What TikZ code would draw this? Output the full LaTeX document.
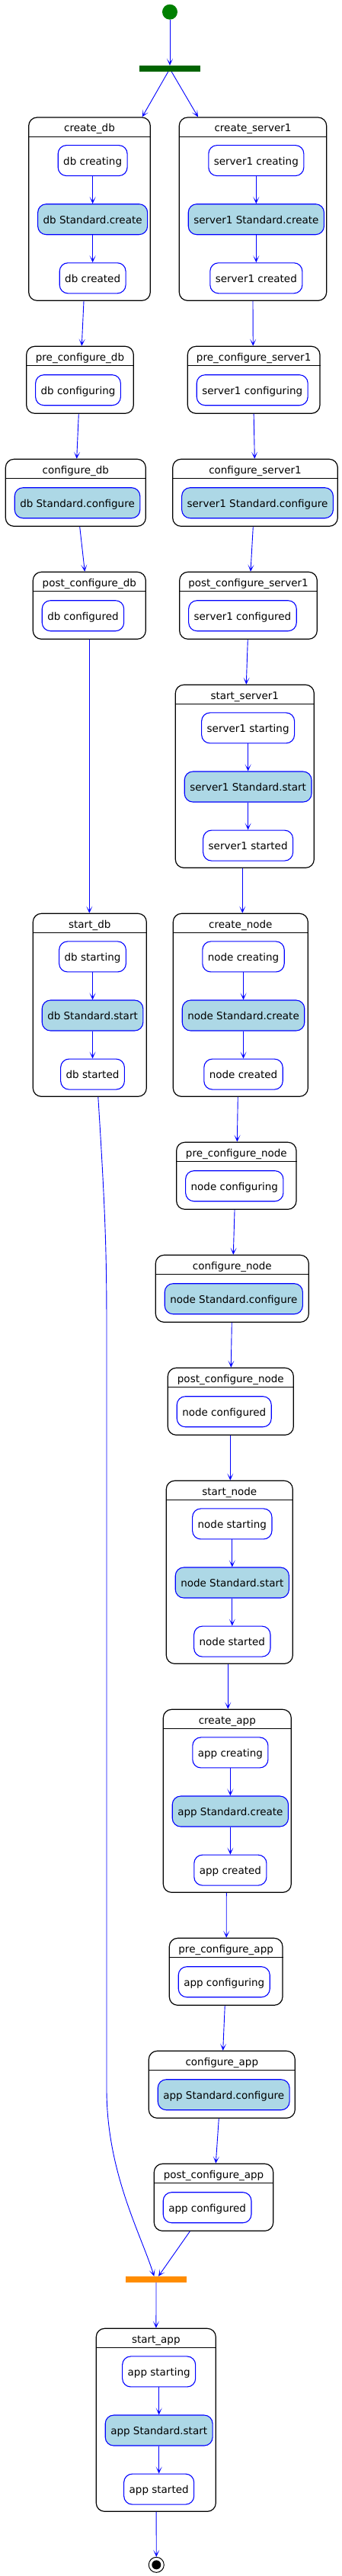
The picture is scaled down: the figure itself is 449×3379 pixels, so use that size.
\documentclass[tikz,border=0pt]{standalone}
\usepackage{fontspec}
\setmainfont{DejaVu Sans}
\usepackage{tikz}
\usetikzlibrary{positioning,arrows.meta}
\definecolor{lightblue}{HTML}{ADD8E6}
\definecolor{startgreen}{HTML}{008000}
\definecolor{forkgreen}{HTML}{006400}
\definecolor{joinorange}{HTML}{FF8C00}

\tikzset{
 superbox/.style={draw=black, line width=1.2pt, rounded corners=11pt, fill=white, inner sep=0pt},
 suptitle/.style={inner sep=0pt, text height=11pt, text depth=0pt},
 actbox/.style={draw=blue, line width=1.1pt, rounded corners=11pt, fill=white, minimum height=40pt, inner xsep=7pt, inner ysep=0pt, text height=11pt, text depth=0pt},
 stdbox/.style={actbox, fill=lightblue},
 flow/.style={draw=blue, line width=0.9pt, -{Stealth[length=9pt,width=8pt,inset=5.5pt]}},
 bar/.style={minimum width=80pt, minimum height=8pt, inner sep=0pt}
}

% composite state: name, title, left, top, right, bottom
\newcommand{\superstate}[6]{%
 \node[superbox, minimum width={(#5-#3)*1pt}, minimum height={(#6-#4)*1pt}] (#1) at ({(#3+#5)/2},{(#4+#6)/2}) {};
 \node[suptitle, anchor=base, yshift=-19.3pt] (#1-t) at (#1.north) {#2};
 \draw[black, line width=1pt] ([yshift=-26pt]#1.north west) -- ([yshift=-26pt]#1.north east);
}

\begin{document}
\begin{tikzpicture}[x=1pt, y=-1pt, font=\fontsize{13.5}{16}\selectfont, line join=round, >=Stealth]
 \useasboundingbox (0,0) rectangle (449,3379);
 % Start and fork
 \node[circle, fill=startgreen, minimum size=20pt, inner sep=0pt] (start) at (223,15.7) {};
 \node[bar, fill=forkgreen] (fork) at (223,90) {};

 % db branch
 \superstate{cdb}{create\_db}{37.7}{154}{197.3}{394.3}
 \node[stdbox, anchor=west] (cdb2) at ([xshift=12pt, yshift=-134.3pt]cdb.north west) {db Standard.create};
 \node[actbox, above=36pt of cdb2] (cdb1) {db creating};
 \node[actbox, below=36pt of cdb2] (cdb3) {db created};

 \superstate{pcdb}{pre\_configure\_db}{34.7}{454.3}{175.3}{542.3}
 \node[actbox, anchor=west] (pcdb1) at ([xshift=12pt, yshift=-58pt]pcdb.north west) {db configuring};

 \superstate{cfdb}{configure\_db}{7.3}{602.3}{191.3}{690.3}
 \node[stdbox, anchor=west] (cfdb1) at ([xshift=12pt, yshift=-58pt]cfdb.north west) {db Standard.configure};

 \superstate{podb}{post\_configure\_db}{43.3}{750.3}{191.3}{838.3}
 \node[actbox, anchor=west] (podb1) at ([xshift=12pt, yshift=-58pt]podb.north west) {db configured};

 \superstate{sdb}{start\_db}{43.3}{1198.3}{192.3}{1438.3}
 \node[stdbox, anchor=west] (sdb2) at ([xshift=12pt, yshift=-134.3pt]sdb.north west) {db Standard.start};
 \node[actbox, above=36pt of sdb2] (sdb1) {db starting};
 \node[actbox, below=36pt of sdb2] (sdb3) {db started};

 % server1 branch
 \superstate{cs1}{create\_server1}{235.3}{154}{428.7}{394.3}
 \node[stdbox, anchor=west] (cs12) at ([xshift=12pt, yshift=-134.3pt]cs1.north west) {server1 Standard.create};
 \node[actbox, above=36pt of cs12] (cs11) {server1 creating};
 \node[actbox, below=36pt of cs12] (cs13) {server1 created};

 \superstate{pcs1}{pre\_configure\_server1}{246.3}{454.3}{420}{542.3}
 \node[actbox, anchor=west] (pcs11) at ([xshift=12pt, yshift=-58pt]pcs1.north west) {server1 configuring};

 \superstate{cfs1}{configure\_server1}{226.7}{602.3}{443.3}{690.3}
 \node[stdbox, anchor=west] (cfs11) at ([xshift=12pt, yshift=-58pt]cfs1.north west) {server1 Standard.configure};

 \superstate{pos1}{post\_configure\_server1}{235.7}{750.3}{416.3}{838.3}
 \node[actbox, anchor=west] (pos11) at ([xshift=12pt, yshift=-58pt]pos1.north west) {server1 configured};

 \superstate{ss1}{start\_server1}{230.3}{898.3}{412.3}{1138.3}
 \node[stdbox, anchor=west] (ss12) at ([xshift=12pt, yshift=-134.3pt]ss1.north west) {server1 Standard.start};
 \node[actbox, above=36pt of ss12] (ss11) {server1 starting};
 \node[actbox, below=36pt of ss12] (ss13) {server1 started};

 % node
 \superstate{cn}{create\_node}{227.3}{1198.3}{404.3}{1438.3}
 \node[stdbox, anchor=west] (cn2) at ([xshift=12pt, yshift=-134.3pt]cn.north west) {node Standard.create};
 \node[actbox, above=36pt of cn2] (cn1) {node creating};
 \node[actbox, below=36pt of cn2] (cn3) {node created};

 \superstate{pcn}{pre\_configure\_node}{231.7}{1498.3}{389}{1586.3}
 \node[actbox, anchor=west] (pcn1) at ([xshift=12pt, yshift=-58pt]pcn.north west) {node configuring};

 \superstate{cfn}{configure\_node}{204.3}{1646.3}{405.3}{1734.3}
 \node[stdbox, anchor=west] (cfn1) at ([xshift=12pt, yshift=-58pt]cfn.north west) {node Standard.configure};

 \superstate{pon}{post\_configure\_node}{220.3}{1794.3}{385.3}{1882.3}
 \node[actbox, anchor=west] (pon1) at ([xshift=12pt, yshift=-58pt]pon.north west) {node configured};

 \superstate{sn}{start\_node}{218.3}{1942.3}{384.3}{2182.3}
 \node[stdbox, anchor=west] (sn2) at ([xshift=12pt, yshift=-134.3pt]sn.north west) {node Standard.start};
 \node[actbox, above=36pt of sn2] (sn1) {node starting};
 \node[actbox, below=36pt of sn2] (sn3) {node started};

 % app
 \superstate{ca}{create\_app}{214.3}{2242.3}{382.3}{2482.3}
 \node[stdbox, anchor=west] (ca2) at ([xshift=12pt, yshift=-134.3pt]ca.north west) {app Standard.create};
 \node[actbox, above=36pt of ca2] (ca1) {app creating};
 \node[actbox, below=36pt of ca2] (ca3) {app created};

 \superstate{pca}{pre\_configure\_app}{222.3}{2542.3}{371}{2630.3}
 \node[actbox, anchor=west] (pca1) at ([xshift=12pt, yshift=-58pt]pca.north west) {app configuring};

 \superstate{cfa}{configure\_app}{195.3}{2690.3}{387.3}{2778.3}
 \node[stdbox, anchor=west] (cfa1) at ([xshift=12pt, yshift=-58pt]cfa.north west) {app Standard.configure};

 \superstate{poa}{post\_configure\_app}{202.3}{2838.3}{358.7}{2926.3}
 \node[actbox, anchor=west] (poa1) at ([xshift=12pt, yshift=-58pt]poa.north west) {app configured};

 % Join, start_app and end
 \node[bar, fill=joinorange] (join) at (205,2990) {};

 \superstate{sa}{start\_app}{126.3}{3054.3}{283.3}{3294.3}
 \node[stdbox, anchor=west] (sa2) at ([xshift=12pt, yshift=-134.3pt]sa.north west) {app Standard.start};
 \node[actbox, above=36pt of sa2] (sa1) {app starting};
 \node[actbox, below=36pt of sa2] (sa3) {app started};

 \node[circle, draw=black, line width=1pt, fill=white, minimum size=20pt, inner sep=0pt] (stop) at (205.3,3364.3) {};
 \node[circle, fill=black, minimum size=12pt, inner sep=0pt] (stopdot) at (stop) {};

 % inner transitions
 \foreach \s in {cdb,sdb,cs1,ss1,cn,sn,ca,sa}{
 \draw[flow] (\s1) -- (\s2);
 \draw[flow] (\s2) -- (\s3);
 }

 % transitions between states
 \draw[flow] (start) -- (fork);
 \draw[flow] ([xshift=-2.3pt]fork.south) -- ([xshift=69.2pt]cdb.north);
 \draw[flow] ([xshift=2.3pt]fork.south) -- ([xshift=-72pt]cs1.north);
 \draw[flow] ([xshift=-7.5pt]cdb.south) -- ([xshift=2.3pt]pcdb.north);
 \draw[flow] (cs1.south) -- ([xshift=-0.9pt]pcs1.north);
 \draw[flow] ([xshift=-1.7pt]pcdb.south) -- ([xshift=1.4pt]cfdb.north);
 \draw[flow] (pcs1.south) -- ([xshift=-0.7pt]cfs1.north);
 \draw[flow] ([xshift=5.4pt]cfdb.south) -- ([xshift=-6pt]podb.north);
 \draw[flow] ([xshift=-2.7pt]cfs1.south) -- ([xshift=3pt]pos1.north);
 \draw[flow] (podb.south) -- ([xshift=-0.5pt]sdb.north);
 \draw[flow] ([xshift=-0.7pt]pos1.south) -- ([xshift=2pt]ss1.north);
 \draw[flow] ([xshift=-3pt]ss1.south) -- ([xshift=2.5pt]cn.north);
 \draw[flow] ([xshift=-3.5pt]cn.south) -- ([xshift=1pt]pcn.north);
 \draw[flow] ([xshift=-2.3pt]pcn.south) -- ([xshift=1.5pt]cfn.north);
 \draw[flow] ([xshift=-0.5pt]cfn.south) -- ([xshift=0.5pt]pon.north);
 \draw[flow] ([xshift=-0.5pt]pon.south) -- ([xshift=1pt]sn.north);
 \draw[flow] ([xshift=-2pt]sn.south) -- ([xshift=1pt]ca.north);
 \draw[flow] ([xshift=-1pt]ca.south) -- ([xshift=0.6pt]pca.north);
 \draw[flow] ([xshift=-1.4pt]pca.south) -- ([xshift=1.4pt]cfa.north);
 \draw[flow] ([xshift=-4pt]cfa.south) -- ([xshift=2.8pt]poa.north);
 \draw[flow] ([xshift=-31.2pt]poa.south) -- ([xshift=3pt]join.north);
 \draw[flow] ([xshift=11pt]sdb.south) .. controls (139,1600) and (140,1650) .. (140,1750)
 -- (140,2740) .. controls (140,2850) and (185,2930) .. ([xshift=-2.7pt]join.north);
 \draw[flow] (join) -- (sa);
 \draw[flow] (sa) -- (stop);
\end{tikzpicture}
\end{document}
